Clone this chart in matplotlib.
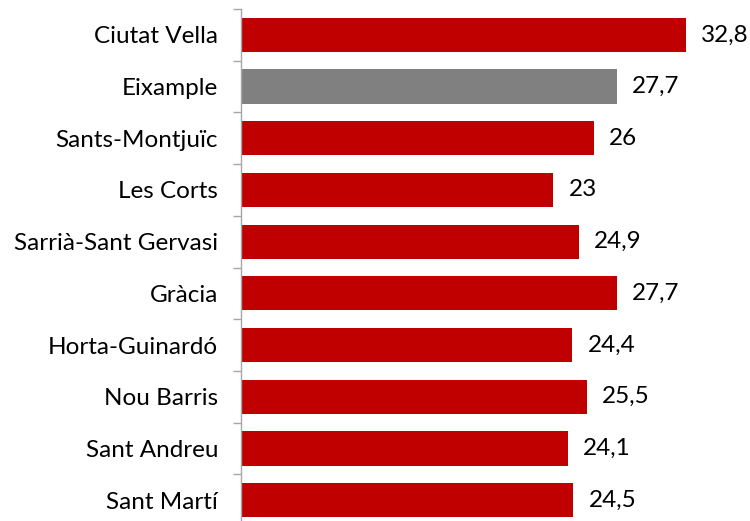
import matplotlib
matplotlib.use("Agg")
import matplotlib.pyplot as plt
import numpy as np
from matplotlib.ticker import FixedLocator

categories = ["Ciutat Vella", "Eixample", "Sants-Montjuïc", "Les Corts",
              "Sarrià-Sant Gervasi", "Gràcia", "Horta-Guinardó", "Nou Barris",
              "Sant Andreu", "Sant Martí"]
values = [32.8, 27.7, 26, 23, 24.9, 27.7, 24.4, 25.5, 24.1, 24.5]
labels = ["32,8", "27,7", "26", "23", "24,9", "27,7", "24,4", "25,5", "24,1", "24,5"]
highlight = "Eixample"

plt.rcParams['font.family'] = ['Lato', 'DejaVu Sans']

W, H = 750, 521
fig = plt.figure(figsize=(W / 100, H / 100), dpi=100)
left, right, top, bottom = 241, 750, 9, 526
ax = fig.add_axes([left / W, (H - bottom) / H, (right - left) / W, (bottom - top) / H])

n = len(categories)
y = np.arange(n)
colors = ["#808080" if c == highlight else "#C00000" for c in categories]
ax.barh(y, values, height=0.66, color=colors, edgecolor="none")

px_per_unit = 13.57
ax.set_xlim(0, (right - left) / px_per_unit)
ax.set_ylim(n - 0.5, -0.5)

for yi, v, lab in zip(y, values, labels):
    ax.annotate(lab, (v, yi), xytext=(11, 0), textcoords="offset points",
                va="center", ha="left", fontsize=17.5, color="#000000")

ax.set_yticks(y)
ax.set_yticklabels(categories, fontsize=17.5)
ax.yaxis.set_minor_locator(FixedLocator(np.arange(-0.5, n, 1.0)))
ax.tick_params(axis="y", which="major", length=0, pad=16.5)
ax.tick_params(axis="y", which="minor", length=6, color="#A6A6A6", width=1)
ax.set_xticks([])
for s in ["top", "right", "bottom"]:
    ax.spines[s].set_visible(False)
ax.spines["left"].set_color("#A6A6A6")
ax.spines["left"].set_linewidth(1)

fig.savefig("out.png", dpi=100)
